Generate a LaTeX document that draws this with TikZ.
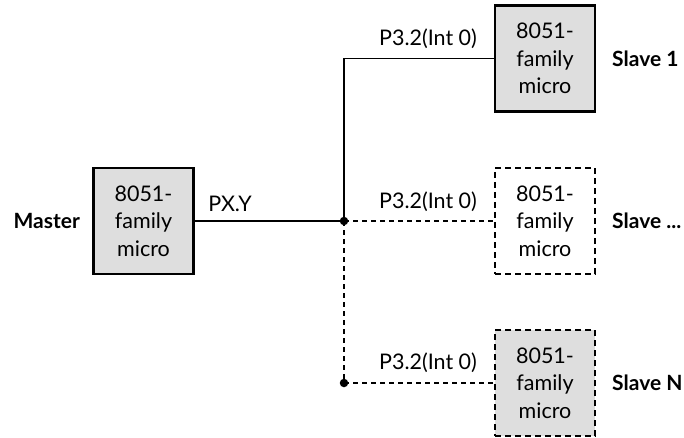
\documentclass[tikz,border=0pt]{standalone}
\usepackage{fontspec}
\setmainfont{Lato}
\begin{document}
\begin{tikzpicture}[x=1pt,y=-1pt,
  box/.style={draw=black,line width=2.4pt,fill=boxgray,minimum width=100pt,minimum height=106pt,align=center,font=\fontsize{21.5}{27.5}\selectfont,inner sep=0pt},
  dbox/.style={box,dash pattern=on 6pt off 4pt},
  conn/.style={line width=1.2pt},
  dconn/.style={line width=1.2pt,dash pattern=on 5pt off 4pt},
  lbl/.style={font=\fontsize{21.5}{24}\selectfont,inner sep=0pt},
  blbl/.style={font=\bfseries\fontsize{21}{24}\selectfont,inner sep=0pt},
  dot/.style={circle,fill=black,inner sep=0pt,minimum size=8.5pt}]
\definecolor{boxgray}{HTML}{DEDEDE}
\useasboundingbox (0,0) rectangle (684,438);
\coordinate (j) at (344,221);
\coordinate (c1) at (344,58.5);
\coordinate (j2) at (344,383);
\node[box] (m) at (143.5,221) {8051-\\family\\micro};
\node[box] (s1) at (545,58.5) {8051-\\family\\micro};
\node[dbox,fill=none] (s2) at (545,221) {8051-\\family\\micro};
\node[dbox] (s3) at (545,383) {8051-\\family\\micro};
\draw[conn] (m.east) -- (j) -- (c1) -- (s1.west);
\draw[dconn] (j) -- (s2.west);
\draw[dconn] (j) -- (j2) -- (s3.west);
\node[dot] (d1) at (j) {};
\node[dot] (d2) at (j2) {};
\node[blbl,anchor=east] (ml) at (80,221) {Master};
\node[lbl] (px) at (230,204) {PX.Y};
\node[lbl] (p1) at (428,39) {P3.2(Int 0)};
\node[lbl] (p2) at (428,202) {P3.2(Int 0)};
\node[lbl] (p3) at (428,363) {P3.2(Int 0)};
\node[blbl,anchor=west] (l1) at (612,58.5) {Slave 1};
\node[blbl,anchor=west] (l2) at (612,221) {Slave ...};
\node[blbl,anchor=west] (l3) at (612,383) {Slave N};
\end{tikzpicture}
\end{document}
